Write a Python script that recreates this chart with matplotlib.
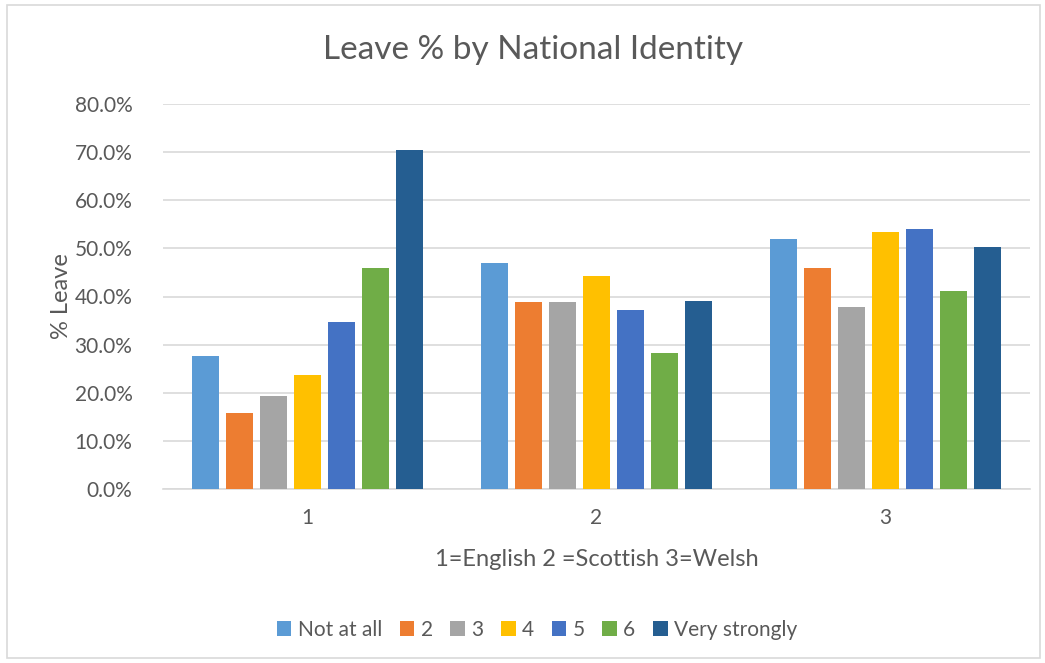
import matplotlib
matplotlib.use("Agg")
import matplotlib.pyplot as plt
import numpy as np
from matplotlib.patches import Rectangle
from matplotlib.ticker import PercentFormatter

# values (percent leave)
groups = ["1", "2", "3"]
series = ["Not at all", "2", "3", "4", "5", "6", "Very strongly"]
leave_english = [27.6, 15.7, 19.4, 23.7, 34.8, 46.0, 70.4]
leave_scottish = [46.9, 38.8, 38.8, 44.3, 37.2, 28.2, 39.0]
leave_welsh = [52.0, 46.0, 37.9, 53.3, 54.1, 41.2, 50.2]
colors = ["#5B9BD5", "#ED7D31", "#A5A5A5", "#FFC000", "#4472C4", "#70AD47", "#255E91"]

plt.rcParams["font.family"] = ["Lato", "DejaVu Sans"]
txt = "#595959"

fig = plt.figure(figsize=(10.45, 6.63), dpi=100)
fig.patches.append(Rectangle((7 / 1045, 1 - 658 / 663), 1033 / 1045, 653 / 663,
                             transform=fig.transFigure, fill=False,
                             edgecolor="#D9D9D9", linewidth=1.2))
ax = fig.add_axes([163 / 1045, 1 - 489 / 663, 867 / 1045, 385 / 663])

data = np.array([leave_english, leave_scottish, leave_welsh])
x = np.arange(len(groups))
step = 34 / 289
width = 27 / 289
for i, name in enumerate(series):
    ax.bar(x + (i - 3) * step, data[:, i], width, color=colors[i], label=name, zorder=3)

ax.set_xlim(-0.5, 2.5)
ax.set_ylim(0, 80)
ax.set_yticks(np.arange(0, 81, 10))
ax.yaxis.set_major_formatter(PercentFormatter(decimals=1))
ax.set_xticks(x)
ax.set_xticklabels(groups)
ax.grid(axis="y", color="#D9D9D9", linewidth=1.2, zorder=0)
for s in ["top", "right", "left"]:
    ax.spines[s].set_visible(False)
ax.spines["bottom"].set_color("#D9D9D9")
ax.spines["bottom"].set_linewidth(1.2)
ax.tick_params(length=0, labelsize=15, colors=txt)
ax.tick_params(axis="y", pad=22)
ax.tick_params(axis="x", pad=14)

ax.set_ylabel("% Leave", fontsize=17, color=txt, labelpad=2)
ax.set_xlabel("1=English 2 =Scottish 3=Welsh", fontsize=17, color=txt, labelpad=15)
fig.text(533 / 1045, 1 - 50 / 663, "Leave % by National Identity", fontsize=24,
         color=txt, ha="center", va="center")

fig.legend(loc="center", bbox_to_anchor=(537 / 1045, 1 - 630 / 663), ncol=7,
           frameon=False, fontsize=15, labelcolor=txt, handlelength=0.7,
           handleheight=0.7, handletextpad=0.3, columnspacing=0.85)

fig.savefig("out.png", dpi=100)
